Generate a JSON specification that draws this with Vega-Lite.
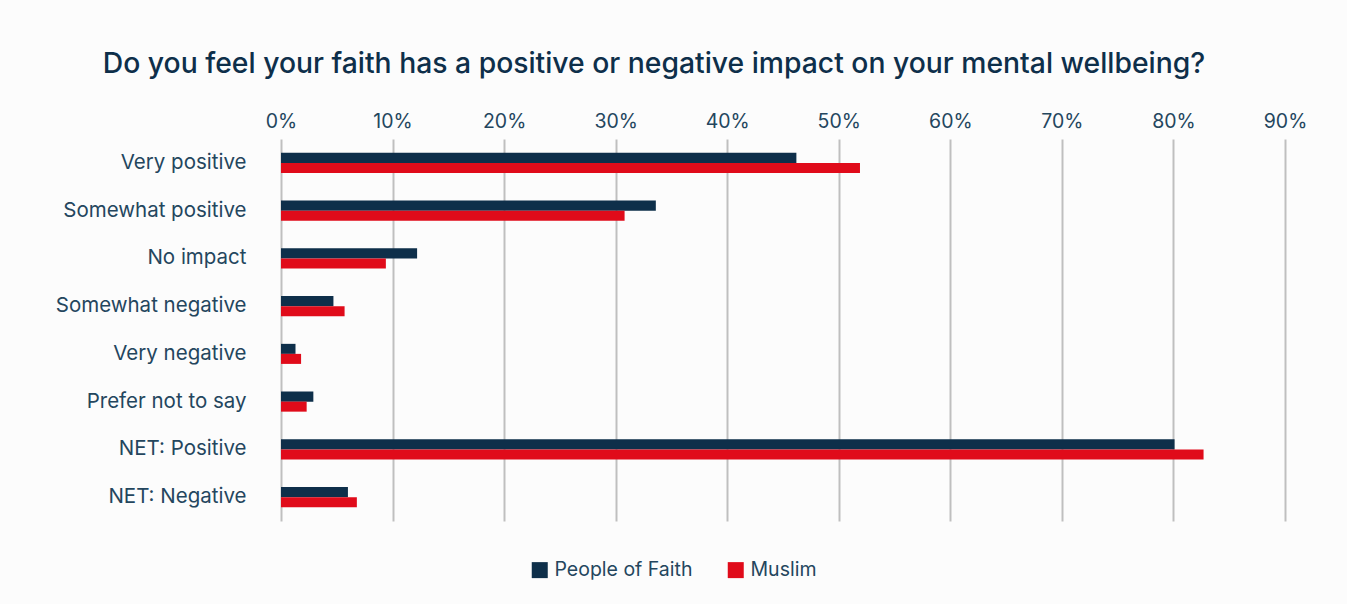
{
  "$schema": "https://vega.github.io/schema/vega-lite/v6.json",
  "width": 1004,
  "height": 382,
  "autosize": {"type": "none"},
  "padding": {"left": 281, "top": 139, "right": 62, "bottom": 83},
  "background": "#fcfcfc",
  "title": {
    "text": "Do you feel your faith has a positive or negative impact on your mental wellbeing?",
    "anchor": "middle",
    "frame": "group",
    "dx": -129,
    "offset": 32,
    "font": "Inter",
    "fontSize": 28.3,
    "fontWeight": 500,
    "color": "#0e2f4a"
  },
  "data": {
    "values": [
      {"category": "Very positive", "group": "People of Faith", "value": 46.2},
      {"category": "Very positive", "group": "Muslim", "value": 51.9},
      {"category": "Somewhat positive", "group": "People of Faith", "value": 33.6},
      {"category": "Somewhat positive", "group": "Muslim", "value": 30.8},
      {"category": "No impact", "group": "People of Faith", "value": 12.2},
      {"category": "No impact", "group": "Muslim", "value": 9.4},
      {"category": "Somewhat negative", "group": "People of Faith", "value": 4.7},
      {"category": "Somewhat negative", "group": "Muslim", "value": 5.7},
      {"category": "Very negative", "group": "People of Faith", "value": 1.3},
      {"category": "Very negative", "group": "Muslim", "value": 1.8},
      {"category": "Prefer not to say", "group": "People of Faith", "value": 2.9},
      {"category": "Prefer not to say", "group": "Muslim", "value": 2.3},
      {"category": "NET: Positive", "group": "People of Faith", "value": 80.1},
      {"category": "NET: Positive", "group": "Muslim", "value": 82.7},
      {"category": "NET: Negative", "group": "People of Faith", "value": 6.0},
      {"category": "NET: Negative", "group": "Muslim", "value": 6.8}
    ]
  },
  "mark": {"type": "bar"},
  "encoding": {
    "y": {
      "field": "category",
      "type": "nominal",
      "sort": null,
      "scale": {"paddingInner": 0.58, "paddingOuter": 0.29},
      "axis": {
        "title": null,
        "domain": false,
        "ticks": false,
        "labelPadding": 35,
        "labelLimit": 300,
        "labelFont": "Inter",
        "labelFontSize": 20.5,
        "labelColor": "#24465e",
        "labelFontWeight": 400
      }
    },
    "yOffset": {
      "field": "group",
      "type": "nominal",
      "sort": ["People of Faith", "Muslim"],
      "scale": {"paddingInner": 0}
    },
    "x": {
      "field": "value",
      "type": "quantitative",
      "scale": {"domain": [0, 90], "nice": false},
      "axis": {
        "orient": "top",
        "title": null,
        "values": [0, 10, 20, 30, 40, 50, 60, 70, 80, 90],
        "labelExpr": "datum.value + '%'",
        "labelFlush": false,
        "labelOverlap": false,
        "domain": false,
        "ticks": false,
        "grid": true,
        "gridColor": "#bfbfbf",
        "gridWidth": 2,
        "labelPadding": 8,
        "labelFont": "Inter",
        "labelFontSize": 19.5,
        "labelColor": "#24465e"
      }
    },
    "color": {
      "field": "group",
      "type": "nominal",
      "sort": ["People of Faith", "Muslim"],
      "scale": {"domain": ["People of Faith", "Muslim"], "range": ["#0e2f4a", "#e00b1a"]},
      "legend": {
        "title": null,
        "orient": "none",
        "direction": "horizontal",
        "legendX": 249,
        "legendY": 421,
        "symbolType": "square",
        "symbolSize": 256,
        "symbolStrokeWidth": 0,
        "labelFont": "Inter",
        "labelFontSize": 19.5,
        "labelColor": "#24465e",
        "labelOffset": 5,
        "columnPadding": 33
      }
    }
  },
  "config": {"view": {"stroke": null}}
}
